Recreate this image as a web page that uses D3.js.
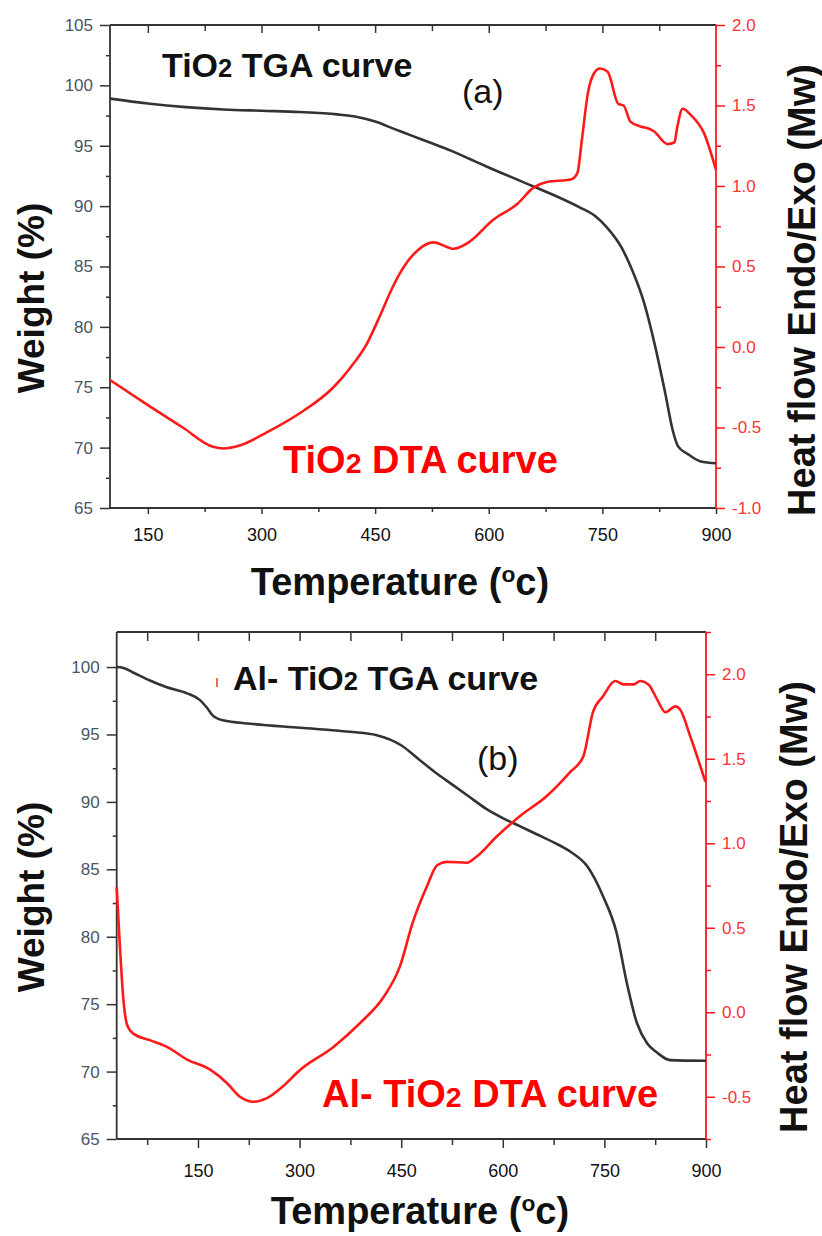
<!DOCTYPE html>
<html>
<head>
<meta charset="utf-8">
<script src="https://cdn.jsdelivr.net/npm/d3@7"></script>
<style>
  body { margin: 0; background: #fff; }
  svg { display: block; }
  text { font-family: "Liberation Sans", Arial, Helvetica, sans-serif; }
</style>
</head>
<body>
<svg id="chart" width="822" height="1236"></svg>
<script>
// ---------- Panel (a): TiO2 ----------
const tgaTempA   = [100, 150, 200, 250, 300, 350, 400, 425, 450, 475, 500, 525, 550, 575, 600, 630, 660, 690, 720, 740, 755, 775, 790, 805, 820, 833, 843, 850, 862, 880, 900];
const tgaWeightA = [98.9, 98.5, 98.2, 98.0, 97.9, 97.8, 97.6, 97.4, 97.0, 96.4, 95.8, 95.2, 94.6, 93.9, 93.2, 92.4, 91.6, 90.8, 89.9, 89.2, 88.3, 86.6, 84.6, 82.0, 78.3, 74.5, 71.4, 70.1, 69.5, 68.85, 68.7];

const dtaTempA = [100, 153, 196, 236, 250, 272, 307, 351, 395, 417, 439, 457, 470, 483, 506, 527, 554, 572, 606, 638, 659, 677, 708, 717, 723, 731, 739, 747, 757, 771, 778, 787, 800, 809, 818, 836, 845, 849, 856, 867, 884, 900];
const dtaHeatA = [-0.205, -0.37, -0.50, -0.62, -0.63, -0.61, -0.53, -0.41, -0.25, -0.13, 0.02, 0.20, 0.34, 0.46, 0.60, 0.65, 0.61, 0.645, 0.79, 0.89, 0.99, 1.025, 1.04, 1.08, 1.29, 1.58, 1.70, 1.73, 1.71, 1.51, 1.50, 1.40, 1.37, 1.36, 1.34, 1.26, 1.27, 1.37, 1.48, 1.44, 1.33, 1.10];

// ---------- Panel (b): Al-TiO2 ----------
const tgaTempB   = [30, 39, 54, 79, 104, 134, 153, 163, 172, 187, 227, 301, 374, 414, 450, 475, 500, 525, 550, 575, 600, 625, 650, 675, 700, 725, 748, 768, 783, 798, 813, 828, 847, 900];
const tgaWeightB = [100, 99.95, 99.6, 99.0, 98.5, 98.05, 97.55, 97.0, 96.4, 96.05, 95.8, 95.5, 95.2, 94.95, 94.2, 93.2, 92.2, 91.3, 90.4, 89.5, 88.8, 88.2, 87.6, 87.0, 86.3, 85.2, 83.0, 80.3, 76.6, 73.6, 72.1, 71.4, 70.85, 70.8];

const dtaTempB = [30, 35, 40, 45, 54, 79, 104, 134, 168, 193, 212, 232, 251, 275, 301, 350, 389, 424, 448, 467, 488, 503, 517, 547, 561, 591, 625, 665, 699, 719, 733, 748, 766, 778, 793, 803, 815, 828, 840, 855, 862, 877, 899];
const dtaHeatB = [0.74, 0.37, 0.07, -0.07, -0.125, -0.165, -0.205, -0.28, -0.34, -0.42, -0.50, -0.53, -0.51, -0.44, -0.34, -0.205, -0.065, 0.09, 0.27, 0.53, 0.745, 0.87, 0.89, 0.885, 0.92, 1.04, 1.16, 1.28, 1.42, 1.515, 1.775, 1.87, 1.96, 1.94, 1.94, 1.96, 1.94, 1.85, 1.775, 1.81, 1.79, 1.63, 1.365];

// ---------- Axis ticks ----------
const tempTicks       = [150, 300, 450, 600, 750, 900];
const tempMinorTicks  = [75, 225, 375, 525, 675, 825];
const weightTicksA    = [65, 70, 75, 80, 85, 90, 95, 100, 105];
const weightMinorA    = [67.5, 72.5, 77.5, 82.5, 87.5, 92.5, 97.5, 102.5];
const weightTicksB    = [65, 70, 75, 80, 85, 90, 95, 100];
const weightMinorB    = [67.5, 72.5, 77.5, 82.5, 87.5, 92.5, 97.5];
const heatTicksA      = [-1.0, -0.5, 0.0, 0.5, 1.0, 1.5, 2.0];
const heatMinorA      = [-0.75, -0.25, 0.25, 0.75, 1.25, 1.75];
const heatTicksB      = [-0.5, 0.0, 0.5, 1.0, 1.5, 2.0];
const heatMinorB      = [-0.75, -0.25, 0.25, 0.75, 1.25, 1.75, 2.25];

const BLACK = "#333333";
const RED = "#ff1a1a";
const fmtHeat = d => d3.format(".1f")(d).replace("\u2212", "-");

const svg = d3.select("#chart");

function drawPanel(p) {
  const g = svg.append("g");
  const x  = d3.scaleLinear().domain(p.tempDomain).range([p.left, p.right]);
  const yW = d3.scaleLinear().domain(p.weightDomain).range([p.bottom, p.top]);
  const yH = d3.scaleLinear().domain(p.heatDomain).range([p.bottom, p.top]);

  const inX = v => v >= p.tempDomain[0] && v <= p.tempDomain[1];

  // bottom axis: minor + major ticks, outward
  g.append("g").attr("transform", `translate(0,${p.bottom})`)
    .call(d3.axisBottom(x).tickValues(tempMinorTicks.filter(inX)).tickSize(p.bMinor).tickSizeOuter(0).tickFormat(""))
    .call(a => a.select(".domain").remove());
  const bx = g.append("g").attr("transform", `translate(0,${p.bottom})`)
    .call(d3.axisBottom(x).tickValues(tempTicks).tickSize(p.bMajor).tickSizeOuter(0).tickPadding(p.bPad).tickFormat(d3.format("d")));
  bx.select(".domain").remove();
  bx.selectAll("text").attr("font-size", 18).attr("fill", "#111");

  // top axis: ticks pointing inward
  g.append("g").attr("transform", `translate(0,${p.top})`)
    .call(d3.axisBottom(x).tickValues(tempMinorTicks.filter(inX)).tickSize(p.tMinor).tickSizeOuter(0).tickFormat(""))
    .call(a => a.select(".domain").remove());
  g.append("g").attr("transform", `translate(0,${p.top})`)
    .call(d3.axisBottom(x).tickValues(tempTicks.filter(v => v < p.tempDomain[1])).tickSize(p.tMajor).tickSizeOuter(0).tickFormat(""))
    .call(a => a.select(".domain").remove());

  // left weight axis
  g.append("g").attr("transform", `translate(${p.left},0)`)
    .call(d3.axisLeft(yW).tickValues(p.weightMinor).tickSize(4).tickSizeOuter(0).tickFormat(""))
    .call(a => a.select(".domain").remove());
  const ly = g.append("g").attr("transform", `translate(${p.left},0)`)
    .call(d3.axisLeft(yW).tickValues(p.weightTicks).tickSize(10).tickSizeOuter(0).tickPadding(p.lPad).tickFormat(d3.format("d")));
  ly.select(".domain").remove();
  ly.selectAll("text").attr("font-size", 17).attr("fill", "#4a5566");

  g.selectAll(".tick line").attr("stroke", BLACK).attr("stroke-width", 1.5);

  // right heat-flow axis (red)
  const rMinor = g.append("g").attr("transform", `translate(${p.right},0)`)
    .call(d3.axisRight(yH).tickValues(p.heatMinor).tickSize(5).tickSizeOuter(0).tickFormat(""));
  rMinor.select(".domain").remove();
  const ry = g.append("g").attr("transform", `translate(${p.right},0)`)
    .call(d3.axisRight(yH).tickValues(p.heatTicks).tickSize(9).tickSizeOuter(0).tickPadding(7).tickFormat(fmtHeat));
  ry.select(".domain").remove();
  ry.selectAll("text").attr("font-size", 17).attr("fill", "#ff3333");
  rMinor.selectAll(".tick line").attr("stroke", RED).attr("stroke-width", 1.5);
  ry.selectAll(".tick line").attr("stroke", RED).attr("stroke-width", 1.5);

  // frame
  g.append("line").attr("x1", p.left).attr("x2", p.right).attr("y1", p.top).attr("y2", p.top)
    .attr("stroke", BLACK).attr("stroke-width", 1.8);
  g.append("line").attr("x1", p.left).attr("x2", p.right).attr("y1", p.bottom).attr("y2", p.bottom)
    .attr("stroke", BLACK).attr("stroke-width", 1.8);
  g.append("line").attr("x1", p.left).attr("x2", p.left).attr("y1", p.top).attr("y2", p.bottom)
    .attr("stroke", BLACK).attr("stroke-width", 1.8);
  g.append("line").attr("x1", p.right).attr("x2", p.right).attr("y1", p.top).attr("y2", p.bottom)
    .attr("stroke", RED).attr("stroke-width", 1.8);

  // curves
  const tga = d3.zip(p.tgaTemp, p.tgaWeight);
  const dta = d3.zip(p.dtaTemp, p.dtaHeat);
  g.append("path").datum(tga)
    .attr("fill", "none").attr("stroke", BLACK).attr("stroke-width", 2.6)
    .attr("d", d3.line().x(d => x(d[0])).y(d => yW(d[1])).curve(d3.curveMonotoneX));
  g.append("path").datum(dta)
    .attr("fill", "none").attr("stroke", RED).attr("stroke-width", 2.6)
    .attr("d", d3.line().x(d => x(d[0])).y(d => yH(d[1])).curve(d3.curveMonotoneX));

  // curve labels
  const tl = g.append("text").attr("x", p.tgaLabel[0]).attr("y", p.tgaLabel[1])
    .attr("font-size", p.tgaLabel[2]).attr("font-weight", "bold").attr("fill", "#111");
  tl.append("tspan").text(p.prefix + "TiO");
  tl.append("tspan").attr("font-size", "75%").text("2");
  tl.append("tspan").text(" TGA curve");

  const dl = g.append("text").attr("x", p.dtaLabel[0]).attr("y", p.dtaLabel[1])
    .attr("font-size", p.dtaLabel[2]).attr("font-weight", "bold").attr("fill", "#ff0000");
  dl.append("tspan").text(p.prefix + "TiO");
  dl.append("tspan").attr("font-size", "75%").text("2");
  dl.append("tspan").text(" DTA curve");

  g.append("text").attr("x", p.tag[0]).attr("y", p.tag[1]).attr("font-size", 34)
    .attr("fill", "#111").text(p.tagText);

  // axis titles
  const xt = g.append("text").attr("x", p.xTitle[0]).attr("y", p.xTitle[1])
    .attr("text-anchor", "middle").attr("font-size", 38).attr("font-weight", "bold").attr("fill", "#111");
  xt.append("tspan").text("Temperature (");
  xt.append("tspan").attr("font-size", "60%").attr("dy", "-0.55em").text("o");
  xt.append("tspan").attr("dy", "0.33em").text("c)");

  g.append("text").attr("transform", `translate(${p.yTitle[0]},${p.yTitle[1]}) rotate(-90)`)
    .attr("text-anchor", "middle").attr("font-size", 37).attr("font-weight", "bold").attr("fill", "#111")
    .text("Weight (%)");
  g.append("text").attr("transform", `translate(${p.y2Title[0]},${p.y2Title[1]}) rotate(-90)`)
    .attr("text-anchor", "middle").attr("font-size", 38).attr("font-weight", "bold").attr("fill", "#111")
    .text("Heat flow Endo/Exo (Mw)");

  return { g, x, yW, yH };
}

drawPanel({
  left: 110, right: 716, top: 25, bottom: 508,
  tempDomain: [100, 900], weightDomain: [65, 105], heatDomain: [-1, 2],
  weightTicks: weightTicksA, weightMinor: weightMinorA,
  heatTicks: heatTicksA, heatMinor: heatMinorA,
  bMajor: 6, bMinor: 4, tMajor: 8, tMinor: 6, bPad: 14, lPad: 7,
  tgaTemp: tgaTempA, tgaWeight: tgaWeightA, dtaTemp: dtaTempA, dtaHeat: dtaHeatA,
  prefix: "",
  tgaLabel: [162, 77, 34], dtaLabel: [283, 473, 38],
  tag: [462, 103], tagText: "(a)",
  xTitle: [400, 595], yTitle: [44, 298], y2Title: [815, 290]
});

const pb = drawPanel({
  left: 116.7, right: 706, top: 632, bottom: 1139,
  tempDomain: [30, 900], weightDomain: [65, 102.6], heatDomain: [-0.75, 2.25],
  weightTicks: weightTicksB, weightMinor: weightMinorB,
  heatTicks: heatTicksB, heatMinor: heatMinorB,
  bMajor: 9, bMinor: 6, tMajor: 9, tMinor: 9, bPad: 16, lPad: 7,
  tgaTemp: tgaTempB, tgaWeight: tgaWeightB, dtaTemp: dtaTempB, dtaHeat: dtaHeatB,
  prefix: "Al- ",
  tgaLabel: [233, 690, 34], dtaLabel: [322, 1107, 38],
  tag: [477, 770], tagText: "(b)",
  xTitle: [420, 1224], yTitle: [44, 897], y2Title: [807, 907]
});

// small legend marker left of the Al-TiO2 TGA label
pb.g.append("line").attr("x1", 217).attr("x2", 217).attr("y1", 678).attr("y2", 687)
  .attr("stroke", "#e0501a").attr("stroke-width", 1.6);
</script>
</body>
</html>
